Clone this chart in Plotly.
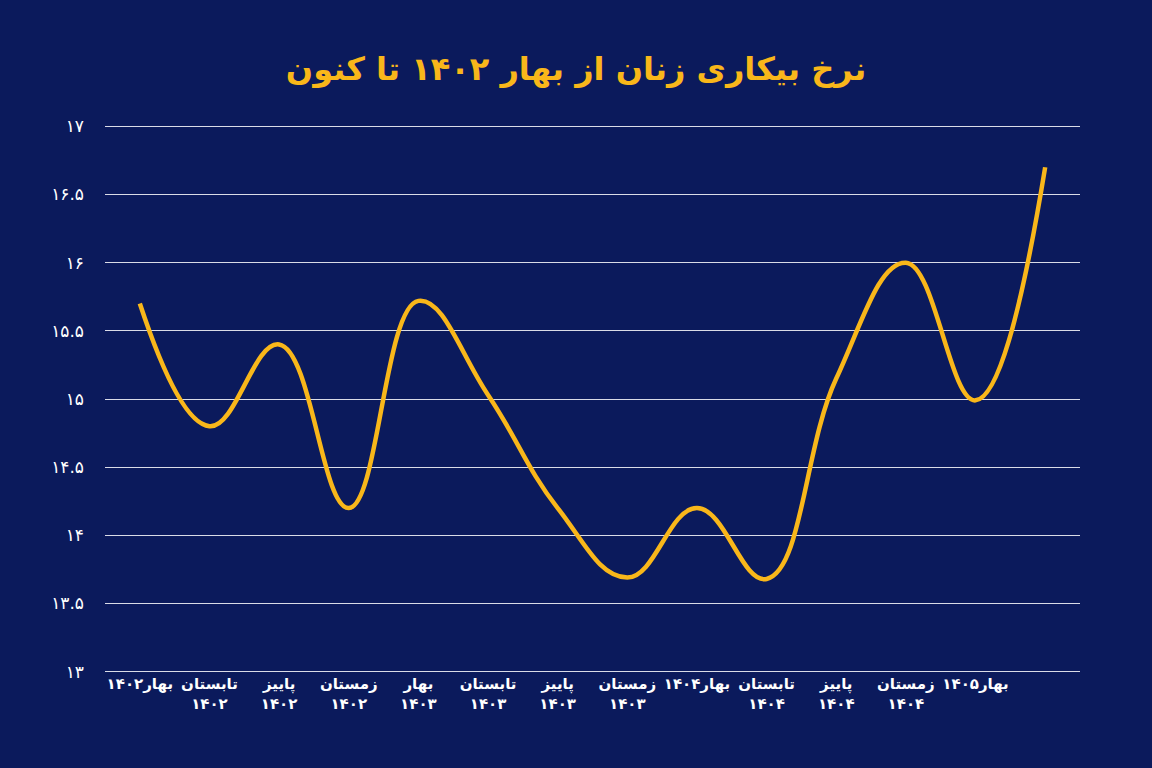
import plotly.graph_objects as go

labels = ["بهار۱۴۰۲", "تابستان<br>۱۴۰۲", "پاییز<br>۱۴۰۲", "زمستان<br>۱۴۰۲", "بهار<br>۱۴۰۳",
          "تابستان<br>۱۴۰۳", "پاییز<br>۱۴۰۳", "زمستان<br>۱۴۰۳", "بهار۱۴۰۴", "تابستان<br>۱۴۰۴",
          "پاییز<br>۱۴۰۴", "زمستان<br>۱۴۰۴", "بهار۱۴۰۵", ""]
values = [15.7, 14.8, 15.4, 14.2, 15.72, 15.03, 14.2, 13.69, 14.2, 13.68, 15.15, 16.0, 14.99, 16.7]
yticks = [13, 13.5, 14, 14.5, 15, 15.5, 16, 16.5, 17]
ytext = ["۱۳", "۱۳.۵", "۱۴", "۱۴.۵", "۱۵", "۱۵.۵", "۱۶", "۱۶.۵", "۱۷"]

x = list(range(len(values)))
fig = go.Figure()
fig.add_trace(go.Scatter(x=x, y=values, mode="lines",
                         line=dict(color="#f9b71a", width=4.5, shape="spline", smoothing=1.2)))

fig.update_layout(
    width=1152, height=768,
    paper_bgcolor="#0b1a5c", plot_bgcolor="#0b1a5c",
    margin=dict(l=105, r=72, t=125, b=95),
    showlegend=False,
    font=dict(family="DejaVu Sans", color="white", size=15),
    title=dict(text="<b>نرخ بیکاری زنان از بهار ۱۴۰۲ تا کنون</b>", x=0.5, y=0.925,
               xanchor="center", font=dict(size=32, color="#f9b71a")),
    xaxis=dict(tickvals=x, ticktext=["<b>%s</b>" % t for t in labels],
               range=[-0.5, 13.5], showgrid=False, zeroline=False, ticks="",
               tickfont=dict(size=15, color="white")),
    yaxis=dict(range=[12.99, 17.01], tickvals=yticks, ticktext=ytext, showgrid=True,
               gridcolor="rgba(255,255,255,0.85)", gridwidth=1, zeroline=False,
               ticklabelstandoff=20, tickfont=dict(size=17, color="white")),
)

fig.write_html("out.html", config={"displayModeBar": False},
               post_script="document.body.style.margin='0';document.body.style.overflow='hidden';")
